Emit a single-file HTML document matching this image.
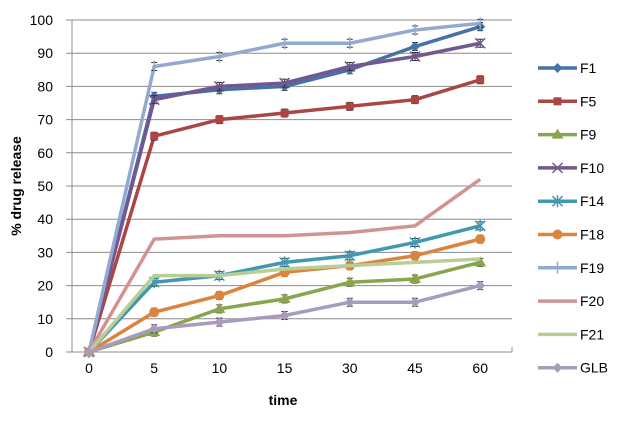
<!DOCTYPE html>
<html><head><meta charset="utf-8"><style>
body{margin:0;background:#fff;font-family:"Liberation Sans",sans-serif}
svg text{font-family:"Liberation Sans",sans-serif}
</style></head><body>
<svg id="c" width="617" height="417"></svg>
<script>
const categories=["0","5","10","15","30","45","60"];
const yTicks=[0,10,20,30,40,50,60,70,80,90,100];
const seriesNames=["F1","F5","F9","F10","F14","F18","F19","F20","F21","GLB"];
const F1=[0,77,79,80,85,92,98];
const F5=[0,65,70,72,74,76,82];
const F9=[0,6,13,16,21,22,27];
const F10=[0,76,80,81,86,89,93];
const F14=[0,21,23,27,29,33,38];
const F18=[0,12,17,24,26,29,34];
const F19=[0,86,89,93,93,97,99];
const F20=[0,34,35,35,36,38,52];
const F21=[0,23,23,25,26,27,28];
const GLB=[0,7,9,11,15,15,20];
const seriesData=[F1,F5,F9,F10,F14,F18,F19,F20,F21,GLB];
const colors=["#4572A7","#AA4643","#89A54E","#71588F","#4198AF","#DB843D","#93A9CF","#D19392","#B9CD96","#A99BBD"];
const markers=["diamond","square","triangle","x","star","circle","plus","none","none","diamond"];
const NS="http://www.w3.org/2000/svg";
const svg=document.getElementById('c');
function mk(t,a,p){const e=document.createElementNS(NS,t);for(const k in a)e.setAttribute(k,a[k]);(p||svg).appendChild(e);return e;}
const L=72,R=512,T=20,B=352;
const xs=i=>89+i*65.2;
const ys=v=>B-(v/100)*(B-T);
yTicks.forEach(v=>{
 const g=mk('line',{x1:66,x2:R,y1:ys(v),y2:ys(v),stroke:'#8c8c8c','stroke-width':1});
 
 const t=mk('text',{x:53,y:ys(v)+5,'text-anchor':'end','font-size':14,fill:'#000'});t.textContent=v;
 
});
mk('line',{x1:L,x2:L,y1:T,y2:B,stroke:'#8c8c8c'});
mk('line',{x1:R,x2:R,y1:B-5,y2:B,stroke:'#8c8c8c'});
categories.forEach((c,i)=>{
 const t=mk('text',{x:xs(i),y:373,'text-anchor':'middle','font-size':14});t.textContent=c;
 
});
let t=mk('text',{x:283,y:405,'text-anchor':'middle','font-size':14,'font-weight':'bold'});t.textContent='time';

t=mk('text',{x:0,y:0,'text-anchor':'middle','font-size':14,'font-weight':'bold',transform:'translate(21,186) rotate(-90)'});t.textContent='% drug release';

function marker(type,x,y,col,g){
 if(type==='diamond')mk('polygon',{points:`${x},${y-5} ${x+5},${y} ${x},${y+5} ${x-5},${y}`,fill:col},g);
 else if(type==='square')mk('rect',{x:x-4,y:y-4,width:8,height:8,fill:col},g);
 else if(type==='triangle')mk('polygon',{points:`${x},${y-6} ${x+6},${y+4} ${x-6},${y+4}`,fill:col},g);
 else if(type==='circle')mk('circle',{cx:x,cy:y,r:5,fill:col},g);
 else if(type==='x'){mk('path',{d:`M${x-5} ${y-5}L${x+5} ${y+5}M${x-5} ${y+5}L${x+5} ${y-5}`,stroke:col,'stroke-width':1.5},g);}
 else if(type==='star'){mk('path',{d:`M${x-5} ${y-5}L${x+5} ${y+5}M${x-5} ${y+5}L${x+5} ${y-5}M${x} ${y-6}L${x} ${y+6}`,stroke:col,'stroke-width':1.5},g);}
 else if(type==='plus'){mk('path',{d:`M${x} ${y-6}L${x} ${y+6}`,stroke:col,'stroke-width':1.5},g);}
}
seriesData.forEach((d,s)=>{
 const g=mk('g',{});
 
 mk('polyline',{points:d.map((v,i)=>xs(i)+','+ys(v)).join(' '),fill:'none',stroke:colors[s],'stroke-width':3.5,'stroke-linejoin':'round'},g);
 d.forEach((v,i)=>{
  if(i>0&&s!==7&&s!==8){mk('path',{d:`M${xs(i)} ${ys(v)-4}v8M${xs(i)-3} ${ys(v)-4}h6M${xs(i)-3} ${ys(v)+4}h6`,stroke:'#333','stroke-width':1},g);}
  marker(markers[s],xs(i),ys(v),colors[s],g);
 });
 const ly=68+s*33.3;
 const lg=mk('g',{});
 
 mk('line',{x1:538,x2:577,y1:ly,y2:ly,stroke:colors[s],'stroke-width':3.5},lg);
 marker(markers[s],557.5,ly,colors[s],lg);
 const tt=mk('text',{x:580,y:ly+5,'font-size':14},lg);tt.textContent=seriesNames[s];
});
</script>
</body></html>
